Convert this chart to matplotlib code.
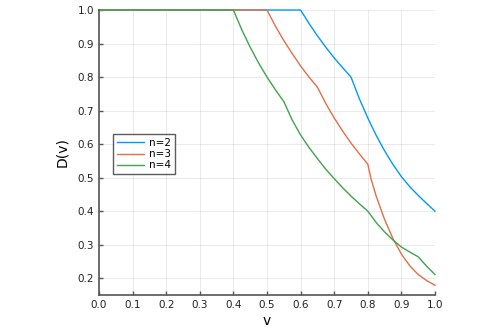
import matplotlib
matplotlib.use("Agg")
import matplotlib.pyplot as plt
import numpy as np

# values
v2 = [0.0, 0.6, 0.625, 0.65, 0.675, 0.7, 0.725, 0.75, 0.775, 0.8, 0.825, 0.85,
      0.875, 0.9, 0.925, 0.95, 0.975, 1.0]
d2 = [1.0, 1.0, 0.96, 0.923, 0.889, 0.857, 0.828, 0.80, 0.735, 0.678, 0.626, 0.58,
      0.539, 0.503, 0.473, 0.447, 0.423, 0.40]

v3 = [0.0, 0.5, 0.525, 0.55, 0.575, 0.6, 0.625, 0.65, 0.675, 0.7, 0.725, 0.75,
      0.775, 0.8, 0.81, 0.825, 0.85, 0.875, 0.9, 0.925, 0.95, 0.975, 1.0]
d3 = [1.0, 1.0, 0.952, 0.909, 0.87, 0.833, 0.80, 0.77, 0.721, 0.678, 0.639, 0.603,
      0.571, 0.54, 0.495, 0.445, 0.375, 0.318, 0.272, 0.237, 0.211, 0.193, 0.179]

v4 = [0.0, 0.4, 0.425, 0.45, 0.475, 0.5, 0.525, 0.55, 0.575, 0.6, 0.625, 0.65,
      0.675, 0.7, 0.725, 0.75, 0.775, 0.8, 0.825, 0.85, 0.875, 0.9, 0.925, 0.95,
      0.975, 1.0]
d4 = [1.0, 1.0, 0.941, 0.889, 0.842, 0.80, 0.762, 0.727, 0.672, 0.627, 0.59, 0.557,
      0.525, 0.497, 0.47, 0.445, 0.422, 0.40, 0.366, 0.338, 0.314, 0.293, 0.278,
      0.264, 0.236, 0.211]

labels = ["n=2", "n=3", "n=4"]
colors = ["#009AFA", "#E36F47", "#3EA44E"]

fig = plt.figure(figsize=(4.98, 3.32), dpi=100)
ax = fig.add_axes([99 / 498, 1 - 295 / 332, 336 / 498, 285 / 332])

for v, d, lab, c in zip([v2, v3, v4], [d2, d3, d4], labels, colors):
    ax.plot(v, d, color=c, lw=1.0, label=lab, clip_on=False)

ax.set_xlim(0, 1)
ax.set_ylim(0.15, 1.0)
ax.set_xticks(np.arange(0, 1.01, 0.1))
ax.set_yticks(np.arange(0.2, 1.01, 0.1))
ax.set_xticklabels([f"{t:.1f}" for t in np.arange(0, 1.01, 0.1)])
ax.set_yticklabels([f"{t:.1f}" for t in np.arange(0.2, 1.01, 0.1)])
ax.grid(True, color="#000000", alpha=0.08, lw=0.8)
ax.tick_params(direction="in", length=3, width=1, color="#555555",
               labelsize=7.5, labelcolor="#222222")
for s in ["top", "right"]:
    ax.spines[s].set_visible(False)
for s in ["left", "bottom"]:
    ax.spines[s].set_color("#555555")
    ax.spines[s].set_linewidth(1.2)

ax.set_xlabel("v", fontsize=10, labelpad=3)
ax.set_ylabel("D(v)", fontsize=10, labelpad=6)

leg = ax.legend(loc="upper left", bbox_to_anchor=(0.042, 0.565), borderaxespad=0,
                fontsize=7.5, frameon=True, fancybox=False, handlelength=2.6,
                labelspacing=0.1, borderpad=0.4, handletextpad=0.4)
leg.get_frame().set_edgecolor("#333333")
leg.get_frame().set_linewidth(1.0)

fig.savefig("out.png", dpi=100)
